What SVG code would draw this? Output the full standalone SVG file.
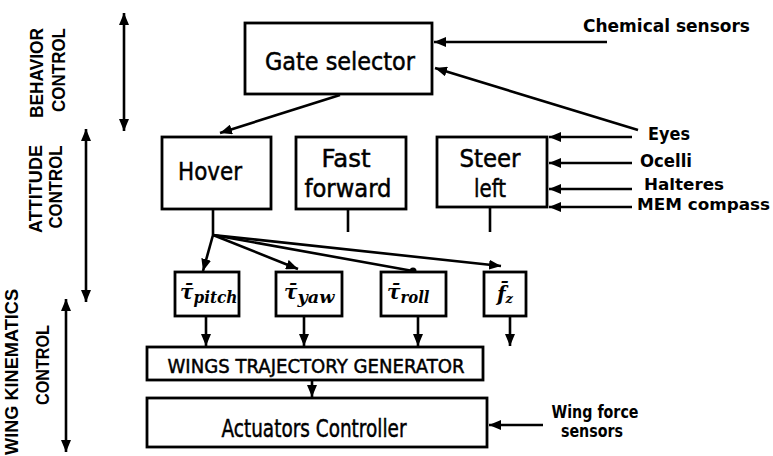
<svg xmlns="http://www.w3.org/2000/svg" width="773" height="456" viewBox="0 0 773 456">
<defs>
<marker id="ah" markerUnits="userSpaceOnUse" markerWidth="12" markerHeight="10" refX="12" refY="5" orient="auto-start-reverse" viewBox="0 0 12 10">
<path d="M0,0 L12,5 L0,10 z" fill="#000"/>
</marker>
<marker id="dot" markerUnits="userSpaceOnUse" markerWidth="8" markerHeight="8" refX="4" refY="4" viewBox="0 0 8 8">
<circle cx="4" cy="4" r="3.5" fill="#000"/>
</marker>
</defs>
<style>
.box{fill:#fff;stroke:#000;stroke-width:2.8}
.ln{fill:none;stroke:#000;stroke-width:2.6}
.arr{fill:none;stroke:#000;stroke-width:2.6;marker-end:url(#ah)}
.dbl{fill:none;stroke:#000;stroke-width:2.6;marker-end:url(#ah);marker-start:url(#ah)}
.nt{font-family:"DejaVu Sans","Liberation Sans",sans-serif;fill:#000;stroke:#000;stroke-width:0.5;text-anchor:middle}
.lab{font-family:"DejaVu Sans","Liberation Sans",sans-serif;font-weight:bold;fill:#000}
.side{font-family:"Liberation Sans",Arial,sans-serif;font-weight:bold;font-size:18px;fill:#000;text-anchor:middle}
.mth{font-family:"DejaVu Serif","Liberation Serif",serif;font-style:italic;font-weight:bold;fill:#000}
</style>
<rect width="773" height="456" fill="#fff"/>

<g id="side-labels">
<line class="dbl" x1="124" y1="13" x2="124" y2="131"/>
<text class="side" transform="translate(43,73) rotate(-90)" textLength="90" lengthAdjust="spacingAndGlyphs">BEHAVIOR</text>
<text class="side" transform="translate(65,70) rotate(-90)" textLength="84" lengthAdjust="spacingAndGlyphs">CONTROL</text>
<line class="dbl" x1="86" y1="129" x2="86" y2="302"/>
<text class="side" transform="translate(42,189) rotate(-90)" textLength="88" lengthAdjust="spacingAndGlyphs">ATTITUDE</text>
<text class="side" transform="translate(62,187) rotate(-90)" textLength="83" lengthAdjust="spacingAndGlyphs">CONTROL</text>
<line class="dbl" x1="66" y1="299" x2="66" y2="452"/>
<text class="side" transform="translate(18,372) rotate(-90)" textLength="166" lengthAdjust="spacingAndGlyphs">WING KINEMATICS</text>
<text class="side" transform="translate(49,365) rotate(-90)" textLength="80" lengthAdjust="spacingAndGlyphs">CONTROL</text>
</g>

<g id="connectors">
<line class="arr" x1="607" y1="42" x2="434" y2="42"/>
<line class="arr" x1="638" y1="130" x2="435" y2="68"/>
<line class="arr" x1="340" y1="95" x2="220" y2="133"/>
<line class="arr" x1="632" y1="137" x2="549" y2="137"/>
<line class="arr" x1="632" y1="163" x2="549" y2="163"/>
<line class="arr" x1="632" y1="189" x2="549" y2="189"/>
<line class="arr" x1="632" y1="207" x2="549" y2="207"/>
<line class="ln" x1="348" y1="209" x2="348" y2="232"/>
<line class="ln" x1="490" y1="207" x2="490" y2="232"/>
<line class="ln" x1="213" y1="209" x2="213" y2="235"/>
<line class="arr" x1="213" y1="235" x2="203" y2="271"/>
<line class="arr" x1="213" y1="235" x2="298" y2="269"/>
<path class="ln" d="M213,235 L413,271" marker-end="url(#dot)"/>
<line class="arr" x1="213" y1="235" x2="501" y2="266"/>
<line class="arr" x1="206" y1="316" x2="206" y2="346"/>
<line class="arr" x1="304" y1="316" x2="304" y2="346"/>
<line class="arr" x1="418" y1="316" x2="418" y2="346"/>
<line class="arr" x1="510" y1="316" x2="510" y2="346"/>
<line class="arr" x1="312" y1="380" x2="312" y2="397"/>
<line class="arr" x1="543" y1="425" x2="489" y2="425"/>
</g>

<g id="gate-selector">
<rect class="box" x="245" y="23" width="187" height="71"/>
<text class="nt" x="340" y="70" font-size="24" textLength="150" lengthAdjust="spacingAndGlyphs">Gate selector</text>
</g>

<g id="hover">
<rect class="box" x="162" y="137" width="109" height="72"/>
<text class="nt" x="210" y="180" font-size="24" textLength="64" lengthAdjust="spacingAndGlyphs">Hover</text>
</g>

<g id="fast-forward">
<rect class="box" x="296" y="137" width="110" height="72"/>
<text class="nt" x="346" y="167" font-size="24" textLength="49" lengthAdjust="spacingAndGlyphs">Fast</text>
<text class="nt" x="348" y="197" font-size="24" textLength="87" lengthAdjust="spacingAndGlyphs">forward</text>
</g>

<g id="steer-left">
<rect class="box" x="437" y="137" width="110" height="70"/>
<text class="nt" x="490" y="167" font-size="24" textLength="61" lengthAdjust="spacingAndGlyphs">Steer</text>
<text class="nt" x="490" y="197" font-size="24" textLength="32" lengthAdjust="spacingAndGlyphs">left</text>
</g>

<g id="tau-pitch">
<rect class="box" x="175" y="272" width="64" height="44"/>
<text class="mth" x="180" y="299" font-size="20">τ̄<tspan font-size="16" dy="4" textLength="44" lengthAdjust="spacingAndGlyphs">pitch</tspan></text>
</g>

<g id="tau-yaw">
<rect class="box" x="276" y="272" width="66" height="44"/>
<text class="mth" x="284" y="299" font-size="20">τ̄<tspan font-size="16" dy="4" textLength="37" lengthAdjust="spacingAndGlyphs">yaw</tspan></text>
</g>

<g id="tau-roll">
<rect class="box" x="381" y="272" width="65" height="44"/>
<text class="mth" x="387" y="299" font-size="20">τ̄<tspan font-size="16" dy="4" textLength="29" lengthAdjust="spacingAndGlyphs">roll</tspan></text>
</g>

<g id="f-z">
<rect class="box" x="484" y="272" width="42" height="44"/>
<text class="mth" x="497" y="301" font-size="20">f̄<tspan font-size="13" dy="2">z</tspan></text>
</g>

<g id="wings-trajectory-generator">
<rect class="box" x="147" y="347" width="336" height="33"/>
<text class="nt" x="316" y="373" font-size="20" textLength="297" lengthAdjust="spacingAndGlyphs">WINGS TRAJECTORY GENERATOR</text>
</g>

<g id="actuators-controller">
<rect class="box" x="147" y="398" width="340" height="49"/>
<text class="nt" x="314" y="437" font-size="24" textLength="185" lengthAdjust="spacingAndGlyphs">Actuators Controller</text>
</g>

<g id="inputs">
<text class="lab" x="583" y="32" font-size="18" textLength="167" lengthAdjust="spacingAndGlyphs">Chemical sensors</text>
<text class="lab" x="648" y="140" font-size="17" textLength="42" lengthAdjust="spacingAndGlyphs">Eyes</text>
<text class="lab" x="640" y="167" font-size="17" textLength="52" lengthAdjust="spacingAndGlyphs">Ocelli</text>
<text class="lab" x="644" y="190" font-size="16" textLength="80" lengthAdjust="spacingAndGlyphs">Halteres</text>
<text class="lab" x="637" y="210" font-size="16" textLength="133" lengthAdjust="spacingAndGlyphs">MEM compass</text>
<text class="lab" x="595" y="418" font-size="18" text-anchor="middle" textLength="87" lengthAdjust="spacingAndGlyphs">Wing force</text>
<text class="lab" x="592" y="437" font-size="18" text-anchor="middle" textLength="62" lengthAdjust="spacingAndGlyphs">sensors</text>
</g>
</svg>
